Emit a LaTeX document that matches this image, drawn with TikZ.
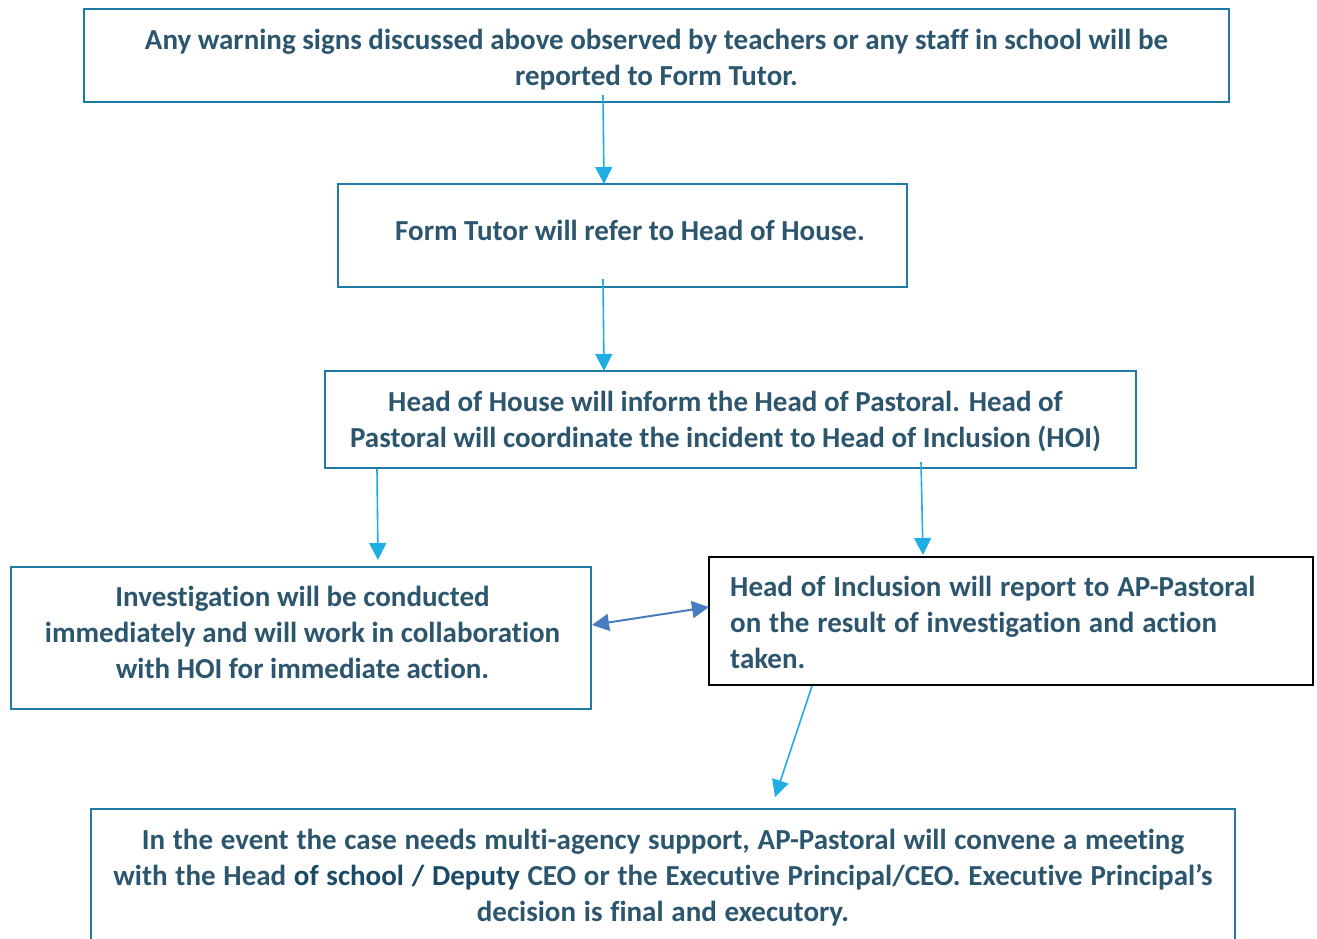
\documentclass[tikz,border=0pt]{standalone}
\usepackage{fontspec}
\setmainfont{Carlito}[Ligatures=NoCommon]
\usetikzlibrary{arrows.meta}
\newcommand\myspc[1]{\spaceskip=\dimexpr\fontdimen2\font+#1\relax}
\definecolor{txt}{HTML}{2C556E}
\definecolor{txtdark}{HTML}{1B4A66}
\definecolor{bord}{HTML}{1F7AA5}
\definecolor{arr}{HTML}{1EAEE3}
\definecolor{darr}{HTML}{4A7DC0}
\tikzset{
  box/.style={draw=bord, line width=2.6pt, rectangle, inner sep=0pt},
  blackbox/.style={box, draw=black, line width=2pt},
  words/.style={inner sep=0pt, align=center, text=txt, font=\fontsize{29}{36}\selectfont\bfseries},
  flow/.style={draw=arr, line width=1.6pt, -{Triangle[width=17pt,length=17pt]}},
  both/.style={draw=darr, line width=2pt, {Triangle[width=17pt,length=17pt]}-{Triangle[width=17pt,length=17pt]}}
}
\begin{document}
\begin{tikzpicture}[x=1pt,y=-1pt]
\useasboundingbox (0,0) rectangle (1317,938);
\clip (0,0) rectangle (1317,938);
\fill[white] (0,0) rectangle (1317,938);

\node[box, minimum width=1145pt, minimum height=93pt] (b1) at (656.5,55.5) {};
\node[words] (t1) at (656.5,59.5)
  {Any warning signs discussed above observed by teachers or any staff in school will be\\reported to Form Tutor.};
\node[box, minimum width=569pt, minimum height=103pt] (b2) at (622.5,235.5) {};
\node[words] (t2) at (630,230.5) {Form Tutor will refer to Head of House.};
\node[box, minimum width=811pt, minimum height=97pt] (b3) at (730.5,419.5) {};
\node[words] (t3) at (725.5,421.5)
  {Head of House will inform the Head of Pastoral. Head of\\Pastoral will coordinate the incident to Head of Inclusion (HOI)};
\node[box, minimum width=580pt, minimum height=142pt] (b4) at (301,638) {};
\node[words] (t4) at (302.5,632)
  {Investigation will be conducted\\immediately and will work in collaboration\\with HOI for immediate action.};
\node[blackbox, minimum width=604pt, minimum height=128pt] (b5) at (1011,621) {};
\node[words, align=left, anchor=west] (t5) at (730,622)
  {\myspc{1.3pt}Head of Inclusion will report to AP-Pastoral\\\myspc{1.3pt}on the result of investigation and action\\taken.};
\node[box, minimum width=1144pt, minimum height=134pt] (b6) at (663,876) {};
\node[words] (t6) at (663,878)
  {\myspc{1.2pt}In the event the case needs multi-agency support, AP-Pastoral will convene a meeting\\\myspc{1.2pt}with the Head {\color{txtdark}of school / Deputy} CEO or the Executive Principal/CEO. Executive Principal’s\\\myspc{1.2pt}decision is final and executory.};

\coordinate (s1) at (603,95);
\coordinate (e1) at (604,184);
\coordinate (s2) at (603,279);
\coordinate (e2) at (604,371);
\coordinate (s3) at (377,469);
\coordinate (e3) at (378,560);
\coordinate (s4) at (921,462);
\coordinate (e4) at (923,555);
\coordinate (s5) at (812,686);
\coordinate (e5) at (775,797);
\coordinate (dl) at (592,625);
\coordinate (dr) at (709,607);

\draw[flow] (s1) -- (e1);
\draw[flow] (s2) -- (e2);
\draw[flow] (s3) -- (e3);
\draw[flow] (s4) -- (e4);
\draw[flow] (s5) -- (e5);
\draw[both] (dl) -- (dr);
\end{tikzpicture}
\end{document}
